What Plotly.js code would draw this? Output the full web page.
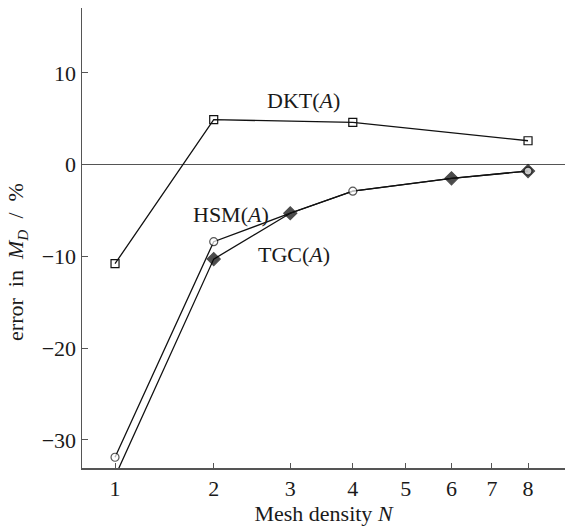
<!DOCTYPE html>
<html>
<head>
<meta charset="utf-8">
<script src="https://cdn.plot.ly/plotly-3.0.1.min.js"></script>
<style>html,body{margin:0;padding:0;background:#fff;}#chart{width:565px;height:527px;}</style>
</head>
<body>
<div id="chart"></div>
<script>
// Mesh density values and tick labels
const xTicks = [1, 2, 3, 4, 5, 6, 7, 8];
// DKT(A)
const N_DKT = [1, 2, 4, 8];
const DKT = [-10.8, 4.9, 4.6, 2.6];
// TGC(A)
const N_TGC = [1, 2, 3, 4, 6, 8];
const TGC = [-34.0, -10.3, -5.3, -2.9, -1.5, -0.7];
const TGC_MARKED = [1, 2, 3, 6, 8];
// HSM(A)
const N_HSM = [1, 2, 3, 4, 6, 8];
const HSM = [-31.9, -8.4, -5.3, -2.9, -1.5, -0.7];
const HSM_MARKED = [1, 2, 4, 8];
const yTicks = [-30, -20, -10, 0, 10];

// the horizontal axis is drawn on a log scale of (N + 2)
const OFFSET = 2;
const toX = n => n + OFFSET;
const FONT = "Liberation Serif, Times New Roman, serif";
const TXT = '#1a1a1a';
const SP = ' \u00a0';

const traces = [
  {
    x: N_DKT.map(toX), y: DKT, type: 'scatter', mode: 'lines+markers', name: 'DKT(A)',
    line: {color: '#111', width: 1.3},
    marker: {symbol: 'square-open', size: 8, color: '#111', line: {width: 1.2}}
  },
  {
    x: N_TGC.map(toX), y: TGC, type: 'scatter', mode: 'lines+markers', name: 'TGC(A)',
    line: {color: '#111', width: 1.3},
    marker: {symbol: 'diamond', color: '#000', line: {color: '#000', width: 1.2},
             size: N_TGC.map(n => TGC_MARKED.includes(n) ? 10 : 0)}
  },
  {
    x: N_HSM.map(toX), y: HSM, type: 'scatter', mode: 'lines+markers', name: 'HSM(A)',
    line: {color: '#111', width: 1.3},
    marker: {symbol: 'circle', color: '#fff', line: {color: '#111', width: 1.2},
             size: N_HSM.map(n => HSM_MARKED.includes(n) ? 8 : 0)}
  }
];

const layout = {
  width: 565, height: 527,
  margin: {l: 82, r: 0, t: 8, b: 59, pad: 0},
  paper_bgcolor: '#fff', plot_bgcolor: '#fff',
  showlegend: false,
  font: {family: FONT, size: 22, color: TXT},
  xaxis: {
    type: 'log',
    range: [0.4353, 1.0468],
    tickvals: xTicks.map(toX), ticktext: xTicks.map(String),
    ticks: 'inside', ticklen: 5, tickwidth: 1, tickcolor: '#555',
    showline: true, linecolor: '#555', linewidth: 1.5,
    showgrid: false, zeroline: false,
    tickfont: {family: FONT, size: 22, color: TXT},
    title: {text: 'Mesh density <i>N</i>', font: {family: FONT, size: 22, color: TXT}, standoff: 2}
  },
  yaxis: {
    range: [-33.07, 17.07],
    tickvals: yTicks, ticktext: yTicks.map(v => v < 0 ? '\u2212' + Math.abs(v) : String(v)),
    ticks: 'inside', ticklen: 6, tickwidth: 1, tickcolor: '#555',
    showline: true, linecolor: '#555', linewidth: 1.5,
    showgrid: false,
    zeroline: true, zerolinecolor: '#555', zerolinewidth: 1.2,
    tickfont: {family: FONT, size: 22, color: TXT}
  },
  annotations: [
    {text: 'error' + SP + 'in' + SP + '<i>M</i><sub><i>D</i></sub>' + SP + '/' + SP + '%',
     xref: 'paper', yref: 'paper', x: -0.1346, y: 0.448, textangle: -90,
     xanchor: 'center', yanchor: 'middle', showarrow: false, font: {family: FONT, size: 22, color: TXT}},
    {text: 'DKT(<i>A</i>)', xref: 'paper', yref: 'paper', x: 0.4596, y: 0.798, xanchor: 'center', yanchor: 'middle', showarrow: false, font: {family: FONT, size: 22, color: TXT}},
    {text: 'HSM(<i>A</i>)', xref: 'paper', yref: 'paper', x: 0.3085, y: 0.552, xanchor: 'center', yanchor: 'middle', showarrow: false, font: {family: FONT, size: 22, color: TXT}},
    {text: 'TGC(<i>A</i>)', xref: 'paper', yref: 'paper', x: 0.439, y: 0.465, xanchor: 'center', yanchor: 'middle', showarrow: false, font: {family: FONT, size: 22, color: TXT}}
  ]
};

Plotly.newPlot('chart', traces, layout, {displayModeBar: false, staticPlot: true});
</script>
</body>
</html>
